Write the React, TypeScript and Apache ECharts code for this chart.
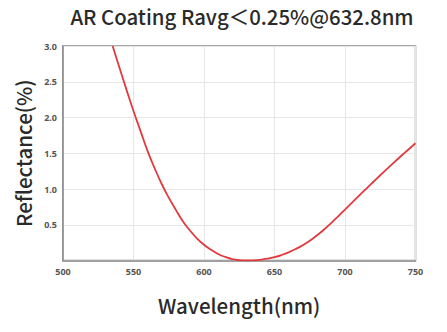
import React, { useEffect, useRef } from "react";
import * as echarts from "echarts";

const wavelengths = [535.2, 540, 545, 550, 555, 560, 565, 570, 575, 580, 585, 590, 595, 600, 605, 610, 615, 620, 625, 630, 635, 640, 645, 650, 655, 660, 665, 670, 675, 680, 685, 690, 695, 700, 705, 710, 715, 720, 725, 730, 735, 740, 745, 750];
const reflectance = [3.0, 2.7, 2.39, 2.09, 1.81, 1.53, 1.29, 1.07, 0.88, 0.71, 0.55, 0.42, 0.31, 0.22, 0.15, 0.09, 0.05, 0.02, 0.005, 0.0, 0.002, 0.01, 0.025, 0.047, 0.077, 0.115, 0.16, 0.213, 0.275, 0.35, 0.43, 0.52, 0.615, 0.713, 0.81, 0.907, 1.003, 1.098, 1.192, 1.285, 1.376, 1.465, 1.553, 1.64];
const xTicks = [500, 550, 600, 650, 700, 750];
const yTicks = [0.5, 1.0, 1.5, 2.0, 2.5, 3.0];
const titleText = "AR Coating Ravg＜0.25%@632.8nm";
const xName = "Wavelength(nm)";
const yName = "Reflectance(%)";

const FONT = "'Noto Sans CJK SC', 'Noto Sans', sans-serif";

export default function App() {
  const ref = useRef<HTMLDivElement>(null);
  useEffect(() => {
    const chart = echarts.init(ref.current!, null, { renderer: "svg" });
    const data = wavelengths.map((w, i) => [w, reflectance[i]]);
    chart.setOption({
      animation: false,
      backgroundColor: "#ffffff",
      title: {
        text: titleText,
        left: 237,
        textAlign: "center",
        top: 1,
        textStyle: { fontFamily: FONT, fontSize: 20.4, fontWeight: 500, color: "#2a2a2a" },
      },
      grid: { left: 63, right: 31.5, top: 46, bottom: 71.5, show: true, borderColor: "#8a8a8a", borderWidth: 1.5, backgroundColor: "transparent" },
      xAxis: {
        type: "value",
        min: xTicks[0],
        max: xTicks[xTicks.length - 1],
        interval: 50,
        name: xName,
        nameLocation: "middle",
        nameGap: 34,
        nameTextStyle: { fontFamily: FONT, fontSize: 20.5, color: "#2a2a2a", fontWeight: 500 },
        axisLine: { show: true, lineStyle: { color: "#8a8a8a", width: 1.5 } },
        axisTick: { show: false },
        axisLabel: { fontFamily: "Noto Sans", fontSize: 9, fontWeight: "bold", color: "#555", margin: 6 },
        splitLine: { show: true, lineStyle: { color: "#e6e6e6", width: 1 } },
      },
      yAxis: {
        type: "value",
        min: 0,
        max: 3,
        interval: 0.5,
        name: yName,
        nameLocation: "middle",
        nameGap: 29,
        nameTextStyle: { fontFamily: FONT, fontSize: 20.5, color: "#2a2a2a", fontWeight: 500 },
        axisLine: { show: true, lineStyle: { color: "#8a8a8a", width: 1.5 } },
        axisTick: { show: false },
        axisLabel: {
          fontFamily: "Noto Sans",
          fontSize: 9,
          fontWeight: "bold",
          color: "#555",
          margin: 6,
          formatter: (v: number) => (yTicks.includes(v) ? v.toFixed(1) : ""),
        },
        splitLine: { show: true, lineStyle: { color: "#e6e6e6", width: 1 } },
      },
      series: [
        {
          type: "line",
          data,
          smooth: 0.5,
          showSymbol: false,
          symbol: "none",
          lineStyle: { color: "#e23a3f", width: 1.8 },
          clip: true,
        },
      ],
    });
    return () => chart.dispose();
  }, []);
  return <div ref={ref} style={{ width: 447, height: 332, position: "absolute", left: 0, top: 0 }} />;
}
